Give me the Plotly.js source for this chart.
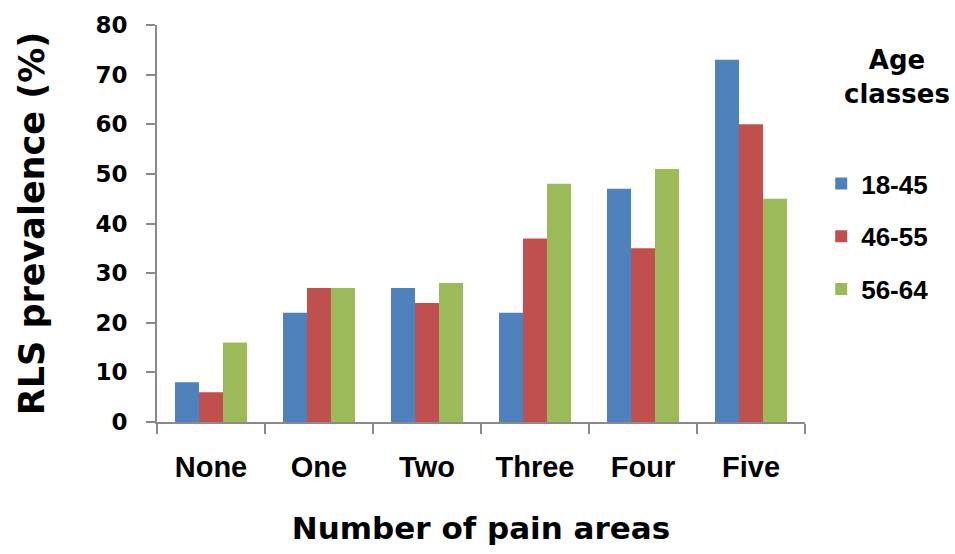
<!DOCTYPE html>
<html>
<head>
<meta charset="utf-8">
<script src="https://cdn.plot.ly/plotly-3.0.1.min.js"></script>
<style>html,body{margin:0;padding:0;background:#fff;}#chart{width:955px;height:554px;}</style>
</head>
<body>
<div id="chart"></div>
<script>
const categories = ["None", "One", "Two", "Three", "Four", "Five"];
const seriesNames = ["18-45", "46-55", "56-64"];
const values18_45 = [8, 22, 27, 22, 47, 73];
const values46_55 = [6, 27, 24, 37, 35, 60];
const values56_64 = [16, 27, 28, 48, 51, 45];
const colors = ["#4F81BD", "#C0504D", "#9BBB59"];
const yTicks = [0, 10, 20, 30, 40, 50, 60, 70, 80];

const allValues = [values18_45, values46_55, values56_64];
const traces = allValues.map((vals, i) => ({
  type: "bar",
  name: seriesNames[i],
  x: categories,
  y: vals,
  legendgroup: "g" + i,
  marker: { color: colors[i], line: { width: 0 } },
  hoverinfo: "x+y+name"
}));

const layout = {
  width: 955,
  height: 554,
  paper_bgcolor: "#ffffff",
  plot_bgcolor: "#ffffff",
  margin: { l: 157, r: 150, t: 25, b: 132 },
  barmode: "group",
  bargap: 0.333,
  bargroupgap: 0,
  showlegend: true,
  legend: {
    x: 1.025, xanchor: "left",
    y: 0.66, yanchor: "top",
    font: { family: "Liberation Sans, Arial, sans-serif", size: 26, color: "#000", weight: "bold" },
    tracegroupgap: 16,
    bgcolor: "rgba(0,0,0,0)",
    itemclick: false
  },
  xaxis: {
    type: "category",
    range: [-0.5, 5.5],
    showline: true, linecolor: "#8a8a8a", linewidth: 2,
    ticks: "outside", tickson: "boundaries", ticklen: 10, tickcolor: "#8a8a8a", tickwidth: 2,
    showgrid: false, zeroline: false,
    tickfont: { family: "Liberation Sans, Arial, sans-serif", size: 29, color: "#000", weight: "bold" },
    ticklabelstandoff: 18,
    title: { text: "Number of pain areas", font: { family: "DejaVu Sans, sans-serif", size: 31, color: "#000", weight: "bold" }, standoff: 36 },
    fixedrange: true
  },
  yaxis: {
    range: [0, 80],
    tickvals: yTicks,
    showline: true, linecolor: "#8a8a8a", linewidth: 2,
    ticks: "outside", ticklen: 9, tickcolor: "#8a8a8a", tickwidth: 2,
    showgrid: false, zeroline: false,
    tickfont: { family: "DejaVu Sans, sans-serif", size: 23, color: "#000", weight: "bold" },
    ticklabelstandoff: 14,
    automargin: true,
    title: { text: "RLS prevalence (%)", font: { family: "DejaVu Sans, sans-serif", size: 35, color: "#000", weight: "bold" }, standoff: 40 },
    fixedrange: true
  },
  annotations: [{
    xref: "paper", yref: "paper",
    x: 1.142, y: 0.955, xanchor: "center", yanchor: "top",
    text: "Age<br>classes", showarrow: false, align: "center",
    font: { family: "DejaVu Sans, sans-serif", size: 26, color: "#000", weight: "bold" }
  }]
};

Plotly.newPlot("chart", traces, layout, { displayModeBar: false, staticPlot: true });
</script>
</body>
</html>
